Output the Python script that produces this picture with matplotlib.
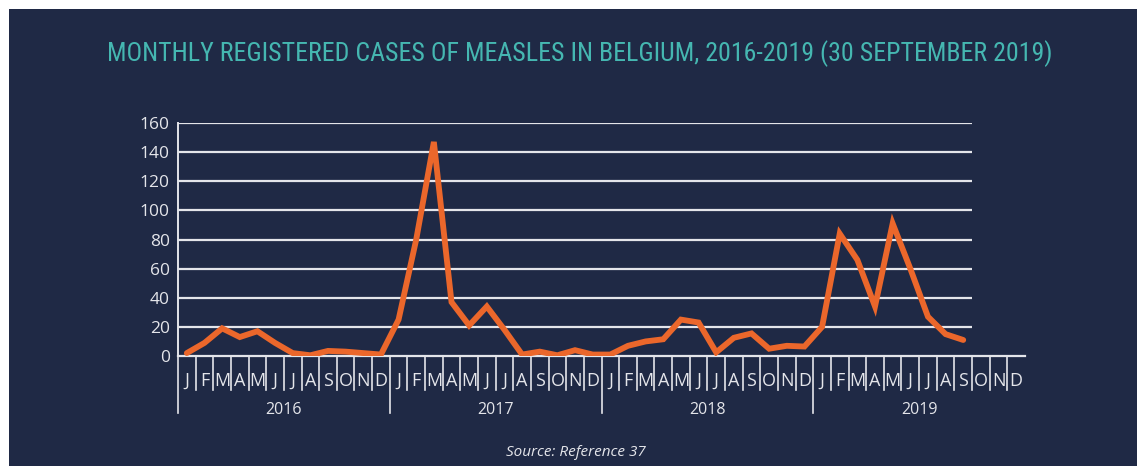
import numpy as np
import matplotlib
matplotlib.use("Agg")
from matplotlib import pyplot as plt
from matplotlib.patches import Rectangle
from matplotlib import font_manager as fm

# data (Jan 2016 .. Sep 2019)
years = ["2016", "2017", "2018", "2019"]
month_letters = ["J", "F", "M", "A", "M", "J", "J", "A", "S", "O", "N", "D"]
cases = [
    2, 9, 19, 13, 17, 9, 2, 0.5, 3.5, 3, 2, 1,          # 2016
    25, 80, 147, 37, 21, 34, 18, 1, 3, 0.5, 4, 1,       # 2017
    1, 7, 10, 11.5, 25, 23, 2.5, 12.5, 15.5, 5, 7, 6.5, # 2018
    20, 84, 66, 34, 91, 60, 27, 15, 11,                 # 2019
]
y_ticks = [0, 20, 40, 60, 80, 100, 120, 140, 160]

W, H = 1137, 466
navy = "#1f2945"
orange = "#eb672b"
teal = "#45b7b1"
light = "#e4e5ea"

names = {f.name for f in fm.fontManager.ttflist}
title_font = "DejaVu Sans"
for cand in ["Roboto Condensed", "Open Sans Condensed", "Liberation Sans Narrow",
             "DejaVu Sans Condensed", "Roboto"]:
    if cand in names:
        title_font = cand
        break
body_font = "Open Sans"

fig = plt.figure(figsize=(W / 100, H / 100), dpi=100, facecolor="white")
fig.patches.append(Rectangle((9 / W, 0), 1, 1 - 9 / H, transform=fig.transFigure,
                             facecolor=navy, edgecolor="none", zorder=-5))

ax = fig.add_axes([178 / W, 1 - 356 / H, (1025 - 178) / W, (356 - 123) / H])
ax.set_facecolor("none")
n_months = len(years) * 12
ax.set_xlim(0, n_months)
ax.set_ylim(0, 160)

# gridlines only over the span with data
ax.hlines(y_ticks[1:], 0, len(cases), color=light, lw=1.6, zorder=1)

x = np.arange(len(cases)) + 0.5
ax.plot(x, cases, color=orange, lw=4.2, solid_joinstyle="miter",
        solid_capstyle="round", zorder=3)

for s in ["top", "right"]:
    ax.spines[s].set_visible(False)
ax.spines["left"].set_color(light)
ax.spines["bottom"].set_color(light)
ax.spines["left"].set_linewidth(1.4)
ax.spines["bottom"].set_linewidth(1.6)
ax.set_yticks(y_ticks)
ax.tick_params(axis="y", length=0, pad=6, labelsize=12.5, labelcolor=light)
for lab in ax.get_yticklabels():
    lab.set_fontfamily(body_font)
ax.set_xticks([])

# month labels, month ticks and year separators below the axis
tr = ax.get_xaxis_transform()
for i in range(n_months):
    ax.text(i + 0.5, -0.107, month_letters[i % 12], transform=tr, ha="center",
            va="center", color=light, fontsize=13, family=body_font, clip_on=False)
    if i % 12 == 0:
        ax.plot([i, i], [0, -0.245], transform=tr, color=light, lw=1.2, clip_on=False)
    else:
        ax.plot([i, i], [0, -0.146], transform=tr, color=light, lw=1.2, clip_on=False)
for k, yr in enumerate(years):
    ax.text(k * 12 + 6, -0.232, yr, transform=tr, ha="center", va="center",
            color=light, fontsize=11.5, family=body_font, clip_on=False)

title = fig.text(580 / W, 1 - 54 / H,
                 "MONTHLY REGISTERED CASES OF MEASLES IN BELGIUM, 2016-2019 (30 SEPTEMBER 2019)",
                 ha="center", va="center", color=teal, fontsize=24, family=title_font)
# shrink the title so it spans the same width as in the reference (~944 px)
renderer = fig.canvas.get_renderer()
w = title.get_window_extent(renderer).width
title.set_fontsize(24 * 944 / w)

fig.text(576 / W, 1 - 452 / H, "Source: Reference 37", ha="center", va="center",
         color=light, fontsize=11, style="italic", family=body_font)

fig.savefig("out.png", dpi=100, facecolor=fig.get_facecolor())
